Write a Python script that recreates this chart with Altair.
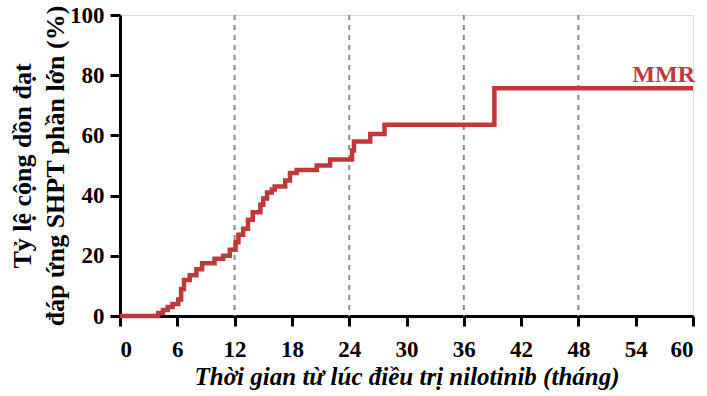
import altair as alt
import pandas as pd

# Cumulative major molecular response (MMR) over time on nilotinib
months = [0, 4.0, 4.5, 5.0, 5.5, 6.1, 6.4, 6.7, 7.3, 8.0, 8.6, 9.9, 10.8, 11.5,
          12.1, 12.4, 12.9, 13.4, 13.9, 14.7, 15.0, 15.4, 15.9, 16.2, 17.3, 17.8,
          18.5, 20.6, 22.0, 24.3, 24.5, 26.2, 27.7, 39.2, 60.0]
mmr_pct = [0, 1.0, 2.0, 3.0, 4.0, 5.5, 9.0, 12.0, 13.5, 15.5, 17.5, 19.0, 20.0, 22.0,
           24.5, 27.0, 29.0, 32.0, 34.5, 37.0, 39.0, 41.0, 42.0, 43.0, 45.0, 47.5,
           48.5, 50.0, 52.0, 55.0, 58.0, 60.5, 63.5, 75.7, 75.7]

guide_months = [12, 24, 36, 48]
x_ticks = [0, 6, 12, 18, 24, 30, 36, 42, 48, 54, 60]
y_ticks = [0, 20, 40, 60, 80, 100]

RED = "#BE3A3A"
FONT = "Liberation Serif"

curve = pd.DataFrame({"month": months, "pct": mmr_pct})
guides = pd.DataFrame({"month": guide_months})
label = pd.DataFrame({"month": [months[-1]], "pct": [mmr_pct[-1]], "text": ["MMR"]})

x_scale = alt.Scale(domain=[0, 60], nice=False)
y_scale = alt.Scale(domain=[0, 100], nice=False)

x_axis = alt.Axis(
    values=x_ticks, title="Thời gian từ lúc điều trị nilotinib (tháng)",
    titleFont=FONT, titleFontSize=25, titleFontStyle="italic", titleFontWeight="bold",
    titleColor="black", titlePadding=3,
    labelFont=FONT, labelFontSize=23, labelFontWeight="bold", labelColor="black",
    labelPadding=12, tickSize=10, tickWidth=3, tickColor="black",
    domainColor="black", domainWidth=3, grid=False,
)
y_axis = alt.Axis(
    values=y_ticks, title=["Tỷ lệ cộng dồn đạt", "đáp ứng SHPT phần lớn (%)"],
    titleFont=FONT, titleFontSize=26, titleFontWeight="bold", titleColor="black",
    titlePadding=1, titleLineHeight=33,
    labelFont=FONT, labelFontSize=23, labelFontWeight="bold", labelColor="black",
    labelPadding=6, tickSize=10, tickWidth=3, tickColor="black",
    domainColor="black", domainWidth=3, grid=False,
)

rules = alt.Chart(guides).mark_rule(
    color="#8a8a8a", strokeDash=[5, 5], strokeWidth=2
).encode(
    x=alt.X("month:Q", scale=x_scale, axis=x_axis),
    y=alt.value(0),
    y2=alt.value(301),
)

line = alt.Chart(curve).mark_line(
    color=RED, strokeWidth=4.5, interpolate="step-after"
).encode(
    x=alt.X("month:Q", scale=x_scale, axis=x_axis),
    y=alt.Y("pct:Q", scale=y_scale, axis=y_axis),
)

text = alt.Chart(label).mark_text(
    color=RED, font=FONT, fontSize=24, fontWeight="bold",
    align="right", baseline="alphabetic", dx=2, dy=-6,
).encode(
    x=alt.X("month:Q", scale=x_scale),
    y=alt.Y("pct:Q", scale=y_scale),
    text="text:N",
)

chart = alt.layer(rules, line, text).properties(
    width=573, height=301,
    autosize=alt.AutoSizeParams(type="none"),
    padding={"left": 120, "top": 15, "right": 14, "bottom": 80},
).configure_view(stroke=None).configure(background="white")

chart.save("out.html", embed_options={"renderer": "svg", "actions": False})
